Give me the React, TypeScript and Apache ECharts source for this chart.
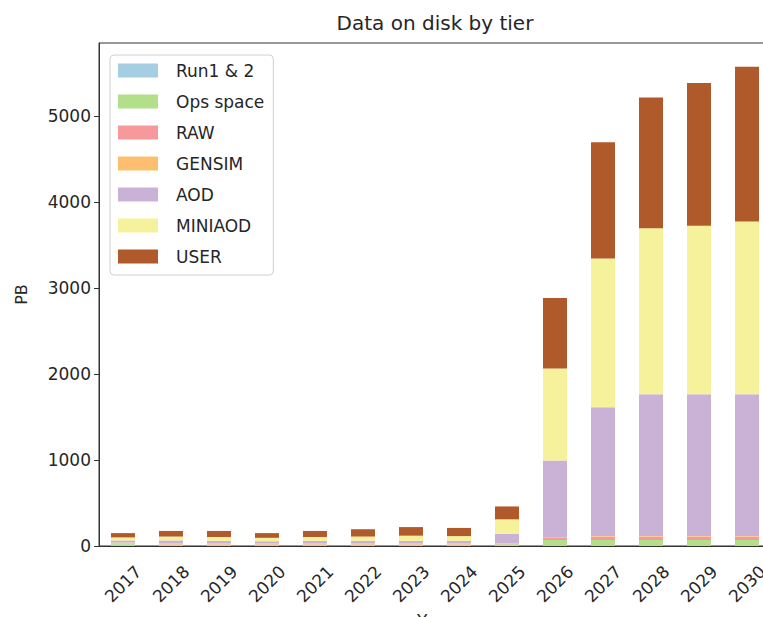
import React, { useEffect, useRef } from "react";
import * as echarts from "echarts";

const years = ["2017","2018","2019","2020","2021","2022","2023","2024","2025","2026","2027","2028","2029","2030"];
const seriesNames = ["Run1 & 2","Ops space","RAW","GENSIM","AOD","MINIAOD","USER"];
const run12 = [15, 0, 0, 0, 0, 0, 0, 0, 0, 0, 0, 0, 0, 0];
const opsSpace = [10, 15, 15, 15, 15, 15, 15, 15, 20, 70, 70, 70, 70, 70];
const raw = [5, 5, 5, 5, 5, 5, 5, 5, 5, 30, 40, 40, 40, 40];
const gensim = [10, 10, 10, 10, 10, 10, 10, 10, 5, 5, 5, 5, 5, 5];
const aod = [25, 35, 30, 25, 30, 30, 30, 30, 110, 890, 1500, 1650, 1650, 1650];
const miniaod = [35, 45, 45, 40, 45, 50, 60, 55, 170, 1070, 1730, 1930, 1960, 2010];
const user = [50, 65, 70, 55, 70, 85, 100, 95, 150, 820, 1350, 1520, 1660, 1800];
const yTicks = [0, 1000, 2000, 3000, 4000, 5000];

const colors = ["#a6cee3", "#b2df8a", "#f7999a", "#fdbf6f", "#c9b2d6", "#f6f29b", "#b0592a"];
const FONT = "DejaVu Sans";

export default function App() {
  const ref = useRef<HTMLDivElement>(null);
  useEffect(() => {
    if (!ref.current) return;
    const chart = echarts.init(ref.current, undefined, { renderer: "svg" });
    const values = [run12, opsSpace, raw, gensim, aod, miniaod, user];
    chart.setOption({
      animation: false,
      color: colors,
      textStyle: { fontFamily: FONT, color: "#262626" },
      title: {
        text: "Data on disk by tier",
        left: 430,
        top: 8,
        textAlign: "center",
        textStyle: { fontFamily: FONT, fontSize: 20, fontWeight: "normal", color: "#262626" },
      },
      legend: {
        orient: "vertical",
        left: 110,
        top: 55,
        padding: [7, 9, 10, 8],
        itemWidth: 40,
        itemHeight: 14,
        itemGap: 14,
        icon: "rect",
        borderColor: "#d0d0d0",
        borderWidth: 1,
        borderRadius: 4,
        backgroundColor: "rgba(255,255,255,0.85)",
        textStyle: { fontFamily: FONT, fontSize: 17, color: "#262626", lineHeight: 17, padding: [0, 0, 0, 13] },
        data: seriesNames,
      },
      grid: {
        left: 99,
        top: 43,
        width: 672,
        height: 503,
        show: true,
        borderColor: "#333",
        borderWidth: 1,
        containLabel: false,
        outerBoundsMode: "none",
      },
      xAxis: {
        type: "category",
        data: years,
        name: "Year",
        nameLocation: "middle",
        nameGap: 65,
        nameTextStyle: { fontFamily: FONT, fontSize: 17, color: "#262626" },
        axisLine: { lineStyle: { color: "#333", width: 1 } },
        axisTick: { alignWithLabel: true, length: 5, lineStyle: { color: "#333" } },
        axisLabel: {
          rotate: 45,
          align: "center",
          verticalAlign: "middle",
          margin: 38,
          fontFamily: FONT,
          fontSize: 17,
          color: "#262626",
        },
      },
      yAxis: {
        type: "value",
        min: 0,
        max: 5850,
        interval: 1000,
        name: "PB",
        nameLocation: "middle",
        nameGap: 70,
        nameTextStyle: { fontFamily: FONT, fontSize: 16, color: "#262626" },
        splitLine: { show: false },
        axisLine: { show: true, lineStyle: { color: "#333", width: 1 } },
        axisTick: { show: true, length: 5, lineStyle: { color: "#333" }, customValues: yTicks },
        axisLabel: {
          fontFamily: FONT,
          fontSize: 17,
          color: "#262626",
          margin: 8,
          customValues: yTicks,
          formatter: (v: number) => String(v),
        },
      },
      series: seriesNames.map((n, i) => ({
        name: n,
        type: "bar",
        stack: "total",
        barWidth: "50%",
        data: values[i],
        itemStyle: { color: colors[i] },
      })),
    });
    return () => chart.dispose();
  }, []);
  return (
    <div style={{ position: "fixed", left: 0, top: 0, width: 763, height: 617, overflow: "hidden", background: "#fff" }}>
      <div ref={ref} style={{ width: 800, height: 617 }} />
    </div>
  );
}
